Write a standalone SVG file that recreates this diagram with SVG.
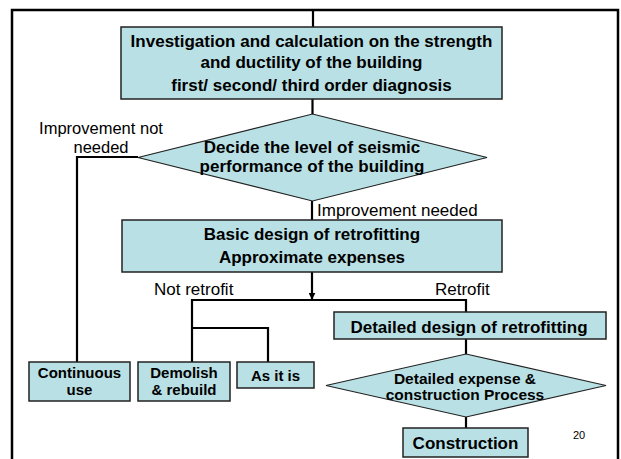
<svg xmlns="http://www.w3.org/2000/svg" width="621" height="459" viewBox="0 0 621 459">
<defs>
<style>
.box{fill:#B9E0E4;stroke:#222;stroke-width:1.5}
.dia{fill:#B9E0E4;stroke:#222;stroke-width:1.2}
.ln{fill:none;stroke:#000;stroke-width:2.2}
.frame{fill:none;stroke:#000;stroke-width:2.5}
.b{font-family:"Liberation Sans",Arial,sans-serif;font-weight:bold;fill:#000;text-anchor:middle}
.r{font-family:"Liberation Sans",Arial,sans-serif;fill:#000}
.f17{font-size:17px}
.f15{font-size:15px}
</style>
<marker id="arr" viewBox="0 0 10 10" refX="9" refY="5" markerWidth="7" markerHeight="7" markerUnits="userSpaceOnUse" orient="auto">
<path d="M0,0 L10,5 L0,10 Z" fill="#000"/>
</marker>
</defs>
<rect width="621" height="459" fill="#fff"/>
<path class="frame" d="M12,470 V10 H618 V470"/>
<g id="connectors">
<path class="ln" d="M313,10 V27"/>
<path class="ln" d="M312.5,99 V114"/>
<path class="ln" d="M138,157 H77 V362"/>
<path class="ln" d="M312,201 V220"/>
<path class="ln" d="M312,272 V299" marker-end="url(#arr)"/>
<path class="ln" d="M192,362 V300 H466 V312"/>
<path class="ln" d="M192,328 H268 V362"/>
<path class="ln" d="M466,339 V354"/>
<path class="ln" d="M466,417 V428"/>
<text class="r" style="font-size:16.5px" x="101" y="134" text-anchor="middle">Improvement not</text>
<text class="r" style="font-size:16.5px" x="101" y="153" text-anchor="middle">needed</text>
<text class="r f17" x="317" y="216">Improvement needed</text>
<text class="r f17" x="154" y="295">Not retrofit</text>
<text class="r f17" x="435" y="295">Retrofit</text>
</g>
<g id="investigation">
<rect class="box" x="121" y="27" width="381" height="72"/>
<text class="b f17" x="311.5" y="47">Investigation and calculation on the strength</text>
<text class="b f17" x="311.5" y="68">and ductility of the building</text>
<text class="b f17" x="311.5" y="91">first/ second/ third order diagnosis</text>
</g>
<g id="decide">
<polygon class="dia" points="312.5,114 487,157.5 312.5,201 138,157.5"/>
<text class="b f17" x="312" y="153">Decide the level of seismic</text>
<text class="b f17" x="312" y="172">performance of the building</text>
</g>
<g id="basic">
<rect class="box" x="122" y="220" width="380" height="52"/>
<text class="b f17" x="312" y="240">Basic design of retrofitting</text>
<text class="b f17" x="312" y="263">Approximate expenses</text>
</g>
<g id="continuous">
<rect class="box" x="29" y="362" width="101" height="39"/>
<text class="b f15" x="79.5" y="378">Continuous</text>
<text class="b f15" x="79.5" y="395">use</text>
</g>
<g id="demolish">
<rect class="box" x="138" y="362" width="92" height="39"/>
<text class="b f15" x="184" y="378">Demolish</text>
<text class="b f15" x="184" y="395">&amp; rebuild</text>
</g>
<g id="asitis">
<rect class="box" x="237" y="362" width="77" height="26"/>
<text class="b f15" x="275.5" y="381">As it is</text>
</g>
<g id="detailed">
<rect class="box" x="334" y="312" width="272" height="27"/>
<text class="b f17" x="469" y="333">Detailed design of retrofitting</text>
</g>
<g id="expense">
<polygon class="dia" points="466,354 606,385.5 466,417 326,385.5"/>
<text class="b" style="font-size:15.5px" x="465" y="384">Detailed expense &amp;</text>
<text class="b" style="font-size:15.5px" x="465" y="400">construction Process</text>
</g>
<g id="construction">
<rect class="box" x="403" y="428" width="125" height="29"/>
<text class="b f17" x="465.5" y="449">Construction</text>
</g>
<text class="r" style="font-size:11px" x="573" y="439">20</text>
</svg>
